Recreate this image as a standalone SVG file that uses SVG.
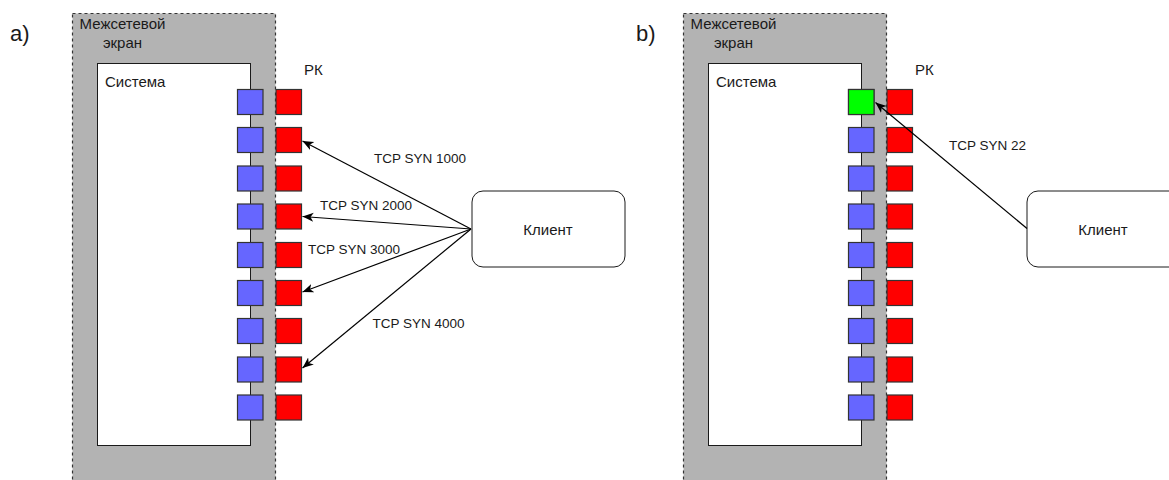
<svg xmlns="http://www.w3.org/2000/svg" width="1169" height="480" viewBox="0 0 1169 480">
  <style>
    text { font-family: "Liberation Sans", Arial, sans-serif; fill: #1a1a1a; }
    .fw { fill: #b3b3b3; stroke: #333333; stroke-width: 1.2; stroke-dasharray: 3 3; }
    .sys { fill: #ffffff; stroke: #1a1a1a; stroke-width: 1; }
    .port { stroke: #333333; stroke-width: 1.2; }
    .blue { fill: #6666ff; }
    .red { fill: #ff0000; }
    .green { fill: #00ff00; }
    .client { fill: #ffffff; stroke: #1a1a1a; stroke-width: 1; }
    .lbl { font-size: 15px; }
    .edge { font-size: 13.5px; text-anchor: middle; }
    .tag { font-size: 22px; }
    .conn { fill: none; stroke: #000000; stroke-width: 1.2; }
  </style>
  <defs>
    <marker id="arrow" markerUnits="userSpaceOnUse" markerWidth="12" markerHeight="10" refX="11" refY="4.5" orient="auto">
      <path d="M0,0 L11,4.5 L0,9 L3,4.5 Z" fill="#000000"/>
    </marker>
    <g id="ports">
      <!-- blue ports on system edge, red ports outside -->
      <rect class="port blue" x="0" y="0" width="25.5" height="25"/>
      <rect class="port blue" x="0" y="38" width="25.5" height="25"/>
      <rect class="port blue" x="0" y="76.5" width="25.5" height="25"/>
      <rect class="port blue" x="0" y="114.5" width="25.5" height="25"/>
      <rect class="port blue" x="0" y="153" width="25.5" height="25"/>
      <rect class="port blue" x="0" y="191" width="25.5" height="25"/>
      <rect class="port blue" x="0" y="229" width="25.5" height="25"/>
      <rect class="port blue" x="0" y="267.5" width="25.5" height="25"/>
      <rect class="port blue" x="0" y="305.5" width="25.5" height="25"/>
      <rect class="port red" x="38.5" y="0" width="25.5" height="25"/>
      <rect class="port red" x="38.5" y="38" width="25.5" height="25"/>
      <rect class="port red" x="38.5" y="76.5" width="25.5" height="25"/>
      <rect class="port red" x="38.5" y="114.5" width="25.5" height="25"/>
      <rect class="port red" x="38.5" y="153" width="25.5" height="25"/>
      <rect class="port red" x="38.5" y="191" width="25.5" height="25"/>
      <rect class="port red" x="38.5" y="229" width="25.5" height="25"/>
      <rect class="port red" x="38.5" y="267.5" width="25.5" height="25"/>
      <rect class="port red" x="38.5" y="305.5" width="25.5" height="25"/>
    </g>
  </defs>

  <rect x="0" y="0" width="1169" height="480" fill="#ffffff"/>

  <!-- Panel a -->
  <text class="tag" x="10" y="41">a)</text>
  <g id="firewall-a">
    <rect class="fw" x="72.5" y="13.5" width="203" height="480"/>
    <text class="lbl" x="122.5" y="28.5" text-anchor="middle">Межсетевой</text>
    <text class="lbl" x="122.5" y="47.5" text-anchor="middle">экран</text>
  </g>
  <g id="system-a">
    <rect class="sys" x="97.5" y="63.5" width="153" height="382"/>
    <text class="lbl" x="105" y="87">Система</text>
  </g>
  <g id="ports-a">
    <use href="#ports" x="237.5" y="89.5"/>
    <text class="lbl" x="304" y="75">РК</text>
  </g>
  <g id="client-a">
    <rect class="client" x="472" y="191" width="153" height="76" rx="11"/>
    <text class="lbl" x="548" y="234.5" text-anchor="middle">Клиент</text>
  </g>
  <g id="connectors-a">
    <line class="conn" x1="471" y1="229" x2="302.5" y2="141" marker-end="url(#arrow)"/>
    <line class="conn" x1="471" y1="229" x2="302.5" y2="216.5" marker-end="url(#arrow)"/>
    <line class="conn" x1="471" y1="229" x2="302.5" y2="292" marker-end="url(#arrow)"/>
    <line class="conn" x1="471" y1="229" x2="302.5" y2="368" marker-end="url(#arrow)"/>
    <text class="edge" x="420" y="162.5">TCP SYN 1000</text>
    <text class="edge" x="366" y="210">TCP SYN 2000</text>
    <text class="edge" x="354" y="254">TCP SYN 3000</text>
    <text class="edge" x="418.5" y="327.5">TCP SYN 4000</text>
  </g>

  <!-- Panel b -->
  <text class="tag" x="636" y="41">b)</text>
  <g id="firewall-b">
    <rect class="fw" x="683.5" y="13.5" width="203" height="480"/>
    <text class="lbl" x="733.5" y="28.5" text-anchor="middle">Межсетевой</text>
    <text class="lbl" x="733.5" y="47.5" text-anchor="middle">экран</text>
  </g>
  <g id="system-b">
    <rect class="sys" x="708.5" y="63.5" width="153" height="382"/>
    <text class="lbl" x="716" y="87">Система</text>
  </g>
  <g id="ports-b">
    <use href="#ports" x="848.5" y="89.5"/>
    <rect class="port green" x="848.5" y="89.5" width="25.5" height="25"/>
    <text class="lbl" x="915" y="75">РК</text>
  </g>
  <g id="client-b">
    <rect class="client" x="1027" y="191" width="153" height="76" rx="11"/>
    <text class="lbl" x="1103" y="234.5" text-anchor="middle">Клиент</text>
  </g>
  <g id="connectors-b">
    <line class="conn" x1="1027" y1="228.5" x2="875.5" y2="102.5" marker-end="url(#arrow)"/>
    <text class="edge" x="987.5" y="150">TCP SYN 22</text>
  </g>
</svg>
